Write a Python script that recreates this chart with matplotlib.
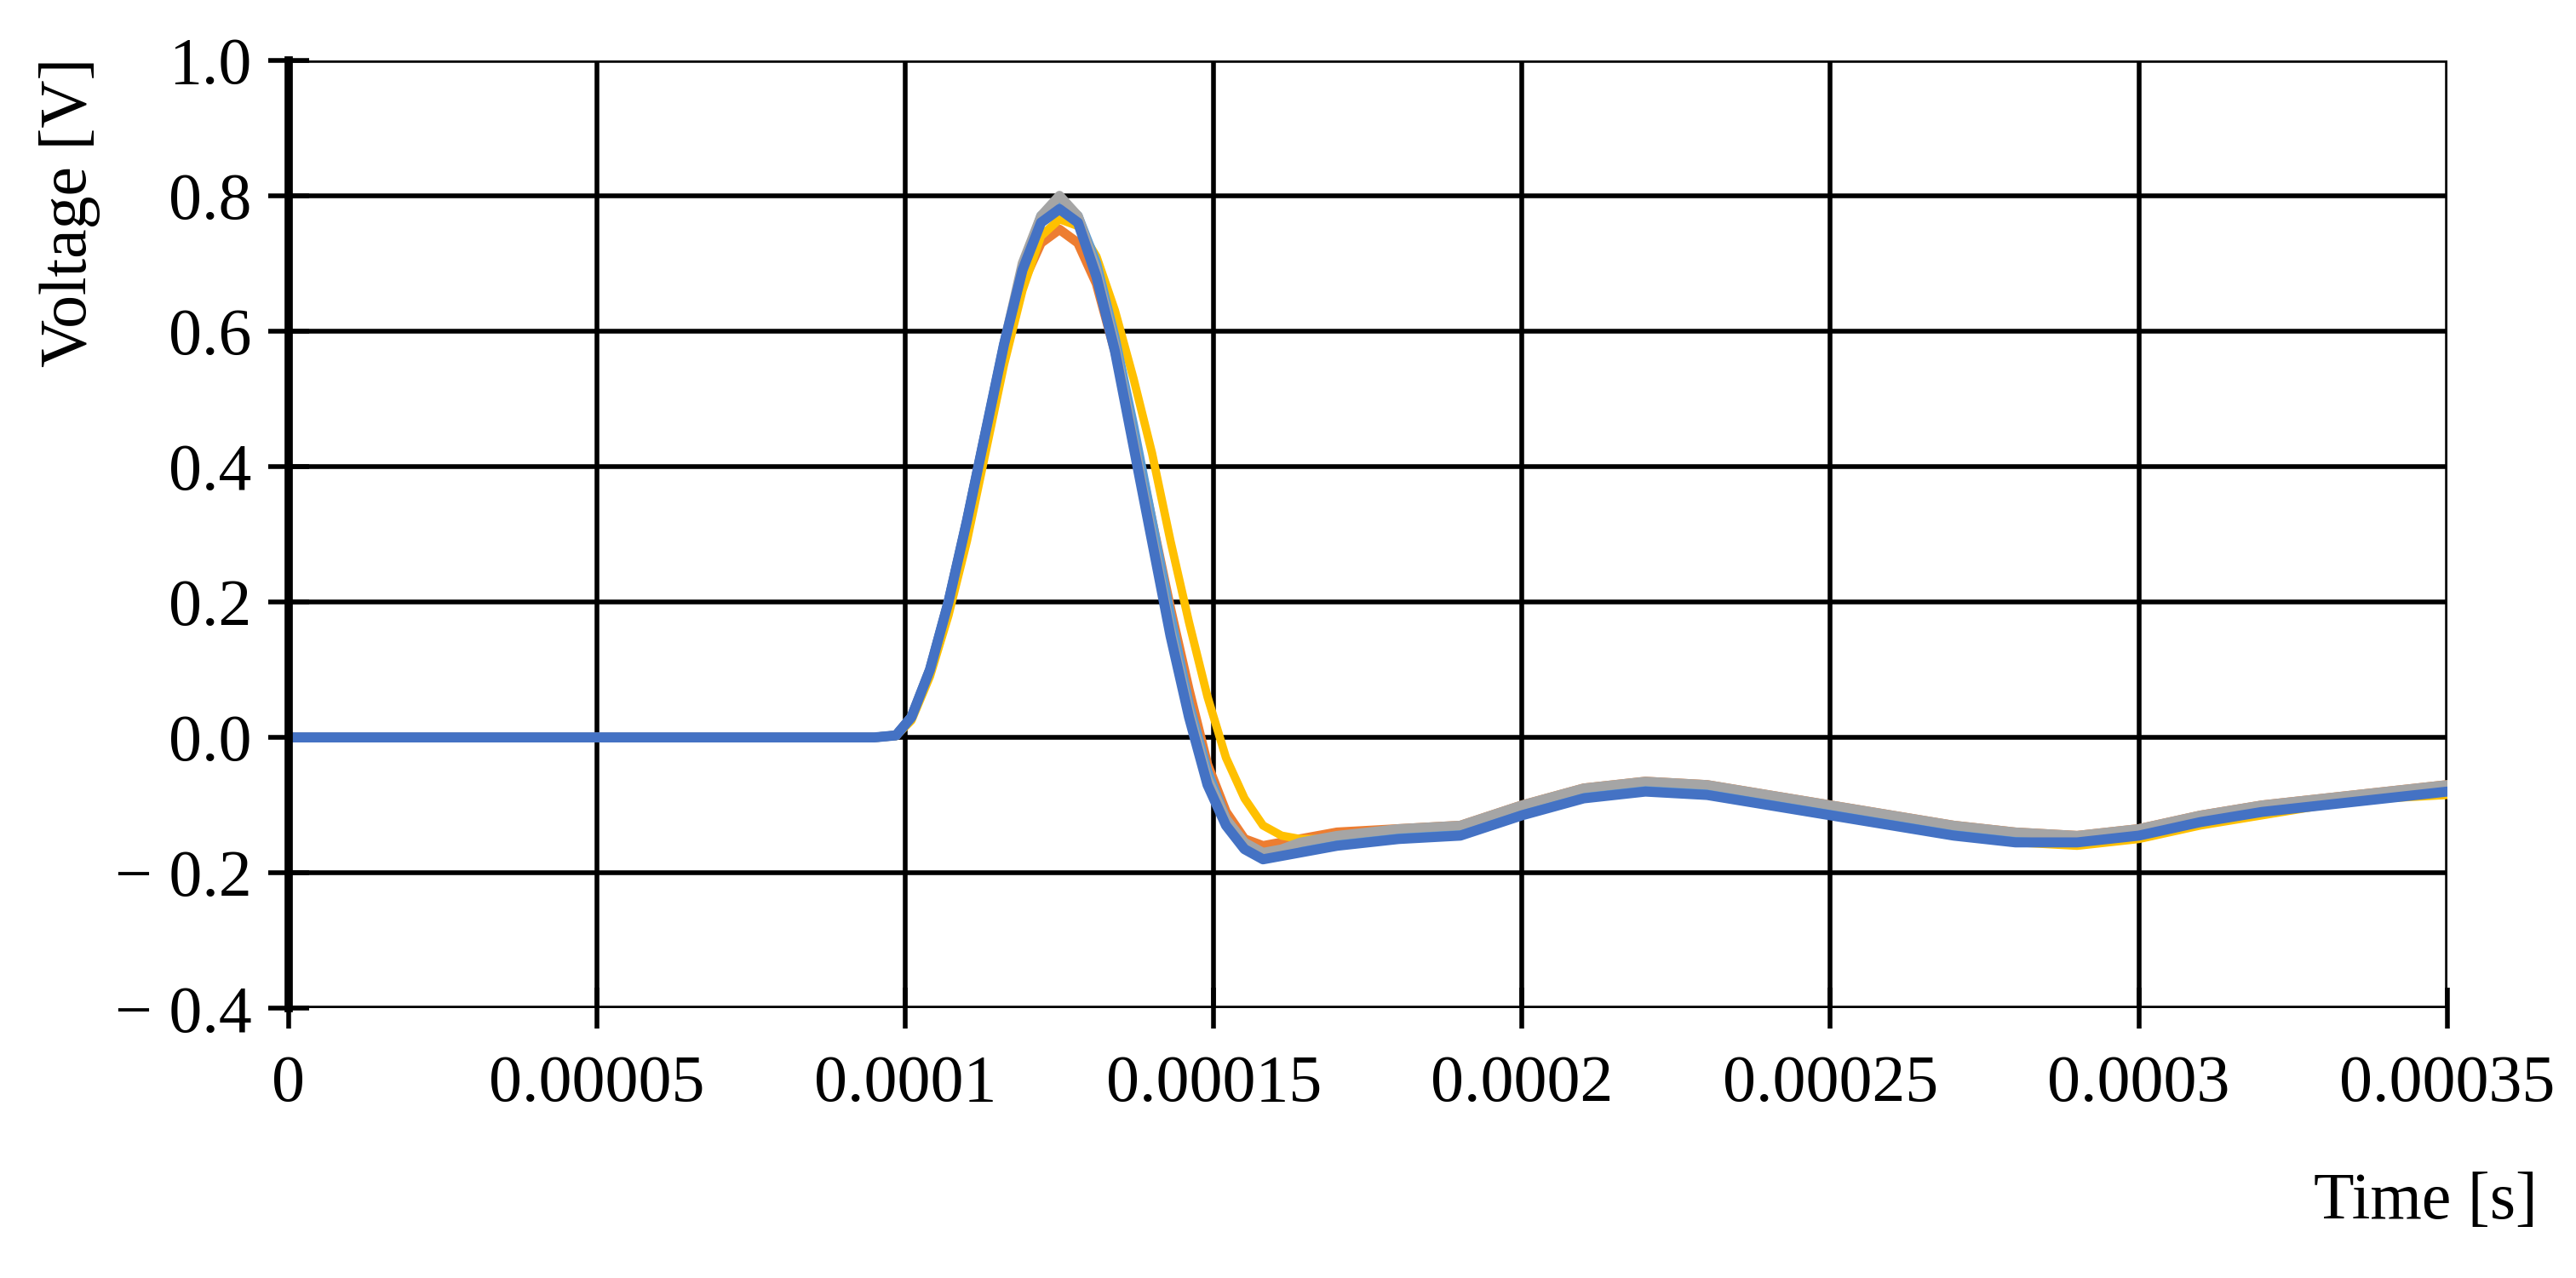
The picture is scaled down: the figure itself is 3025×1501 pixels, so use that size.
import matplotlib
matplotlib.use("Agg")
import matplotlib.pyplot as plt

t = [0, 0.00002, 0.00004, 0.00006, 0.00008, 0.000095, 0.0000985, 0.000101, 0.000104, 0.000107,
     0.00011, 0.000113, 0.000116, 0.000119, 0.000122, 0.000125, 0.000128, 0.000131, 0.000134, 0.000137,
     0.00014, 0.000143, 0.000146, 0.000149, 0.000152, 0.000155, 0.000158, 0.000161, 0.000164, 0.000167,
     0.00017, 0.00018, 0.00019, 0.0002, 0.00021, 0.00022, 0.00023, 0.00024, 0.00025, 0.00026,
     0.00027, 0.00028, 0.00029, 0.0003, 0.00031, 0.00032, 0.00033, 0.00034, 0.00035]

v_blue = [0, 0, 0, 0, 0, 0, 0.003, 0.03, 0.10, 0.20,
          0.32, 0.45, 0.58, 0.69, 0.76, 0.78, 0.76, 0.68, 0.57, 0.43,
          0.29, 0.15, 0.03, -0.07, -0.13, -0.165, -0.18, -0.175, -0.17, -0.165,
          -0.16, -0.15, -0.145, -0.115, -0.09, -0.08, -0.085, -0.10, -0.115, -0.13,
          -0.145, -0.155, -0.155, -0.145, -0.125, -0.11, -0.10, -0.09, -0.08]
v_lightblue = [0, 0, 0, 0, 0, 0, 0.003, 0.03, 0.10, 0.20,
               0.32, 0.45, 0.58, 0.69, 0.77, 0.79, 0.77, 0.70, 0.59, 0.46,
               0.32, 0.18, 0.05, -0.05, -0.12, -0.16, -0.175, -0.17, -0.165, -0.16,
               -0.155, -0.145, -0.14, -0.11, -0.085, -0.075, -0.08, -0.095, -0.11, -0.125,
               -0.14, -0.15, -0.15, -0.14, -0.12, -0.105, -0.095, -0.085, -0.075]
v_gray = [0, 0, 0, 0, 0, 0, 0.003, 0.03, 0.10, 0.20,
          0.32, 0.45, 0.58, 0.70, 0.77, 0.80, 0.77, 0.69, 0.58, 0.44,
          0.30, 0.16, 0.04, -0.06, -0.12, -0.155, -0.17, -0.165, -0.155, -0.15,
          -0.145, -0.135, -0.13, -0.10, -0.075, -0.065, -0.07, -0.085, -0.10, -0.115,
          -0.13, -0.14, -0.145, -0.135, -0.115, -0.10, -0.09, -0.08, -0.07]
v_orange = [0, 0, 0, 0, 0, 0, 0.003, 0.03, 0.10, 0.20,
            0.32, 0.45, 0.57, 0.67, 0.73, 0.75, 0.73, 0.67, 0.57, 0.45,
            0.32, 0.19, 0.07, -0.04, -0.11, -0.15, -0.16, -0.155, -0.15, -0.145,
            -0.14, -0.135, -0.13, -0.10, -0.075, -0.065, -0.07, -0.085, -0.10, -0.115,
            -0.13, -0.14, -0.145, -0.135, -0.115, -0.10, -0.09, -0.08, -0.07]
v_yellow = [0, 0, 0, 0, 0, 0, 0.002, 0.025, 0.09, 0.18,
            0.29, 0.42, 0.55, 0.66, 0.74, 0.765, 0.755, 0.71, 0.63, 0.53,
            0.42, 0.29, 0.17, 0.06, -0.03, -0.09, -0.13, -0.145, -0.15, -0.15,
            -0.145, -0.14, -0.135, -0.11, -0.085, -0.075, -0.08, -0.095, -0.115, -0.13,
            -0.145, -0.155, -0.16, -0.15, -0.13, -0.115, -0.10, -0.09, -0.085]

x_ticks = [0, 0.00005, 0.0001, 0.00015, 0.0002, 0.00025, 0.0003, 0.00035]
x_labels = ["0", "0.00005", "0.0001", "0.00015", "0.0002", "0.00025", "0.0003", "0.00035"]
y_ticks = [-0.4, -0.2, 0.0, 0.2, 0.4, 0.6, 0.8, 1.0]
y_labels = ["\u2212 0.4", "\u2212 0.2", "0.0", "0.2", "0.4", "0.6", "0.8", "1.0"]

plt.rcParams['font.family'] = ['Liberation Serif', 'DejaVu Serif']
fig = plt.figure(figsize=(30.25, 15.01), dpi=100)
ax = fig.add_axes([0.112, 0.211, 0.838, 0.742])

series = [(v_orange, '#ED7D31', 8), (v_yellow, '#FFC000', 7), (v_lightblue, '#5B9BD5', 8),
          (v_gray, '#A5A5A5', 8), (v_blue, '#4472C4', 8.5)]
for v, c, lw in series:
    ax.plot(t, v, color=c, lw=lw, solid_capstyle='round', solid_joinstyle='round', zorder=3)

ax.set_xlim(0, 0.00035)
ax.set_ylim(-0.4, 1.0)
ax.set_xticks(x_ticks)
ax.set_xticklabels(x_labels)
ax.set_yticks(y_ticks)
ax.set_yticklabels(y_labels)
ax.grid(True, color='black', lw=4, zorder=1)
for s in ['top', 'right', 'bottom']:
    ax.spines[s].set_visible(False)
ax.spines['left'].set_linewidth(7)
ax.spines['left'].set_zorder(4)
ax.tick_params(axis='both', direction='inout', length=34, width=4, labelsize=56, color='black')
ax.tick_params(axis='x', pad=22)
ax.tick_params(axis='y', pad=14)

fig.text(0.985, 0.035, "Time [s]", ha='right', va='bottom', fontsize=56)
fig.text(0.027, 0.955, "Voltage [V]", ha='center', va='top', rotation=90, fontsize=56)

fig.savefig("out.png", dpi=100)
